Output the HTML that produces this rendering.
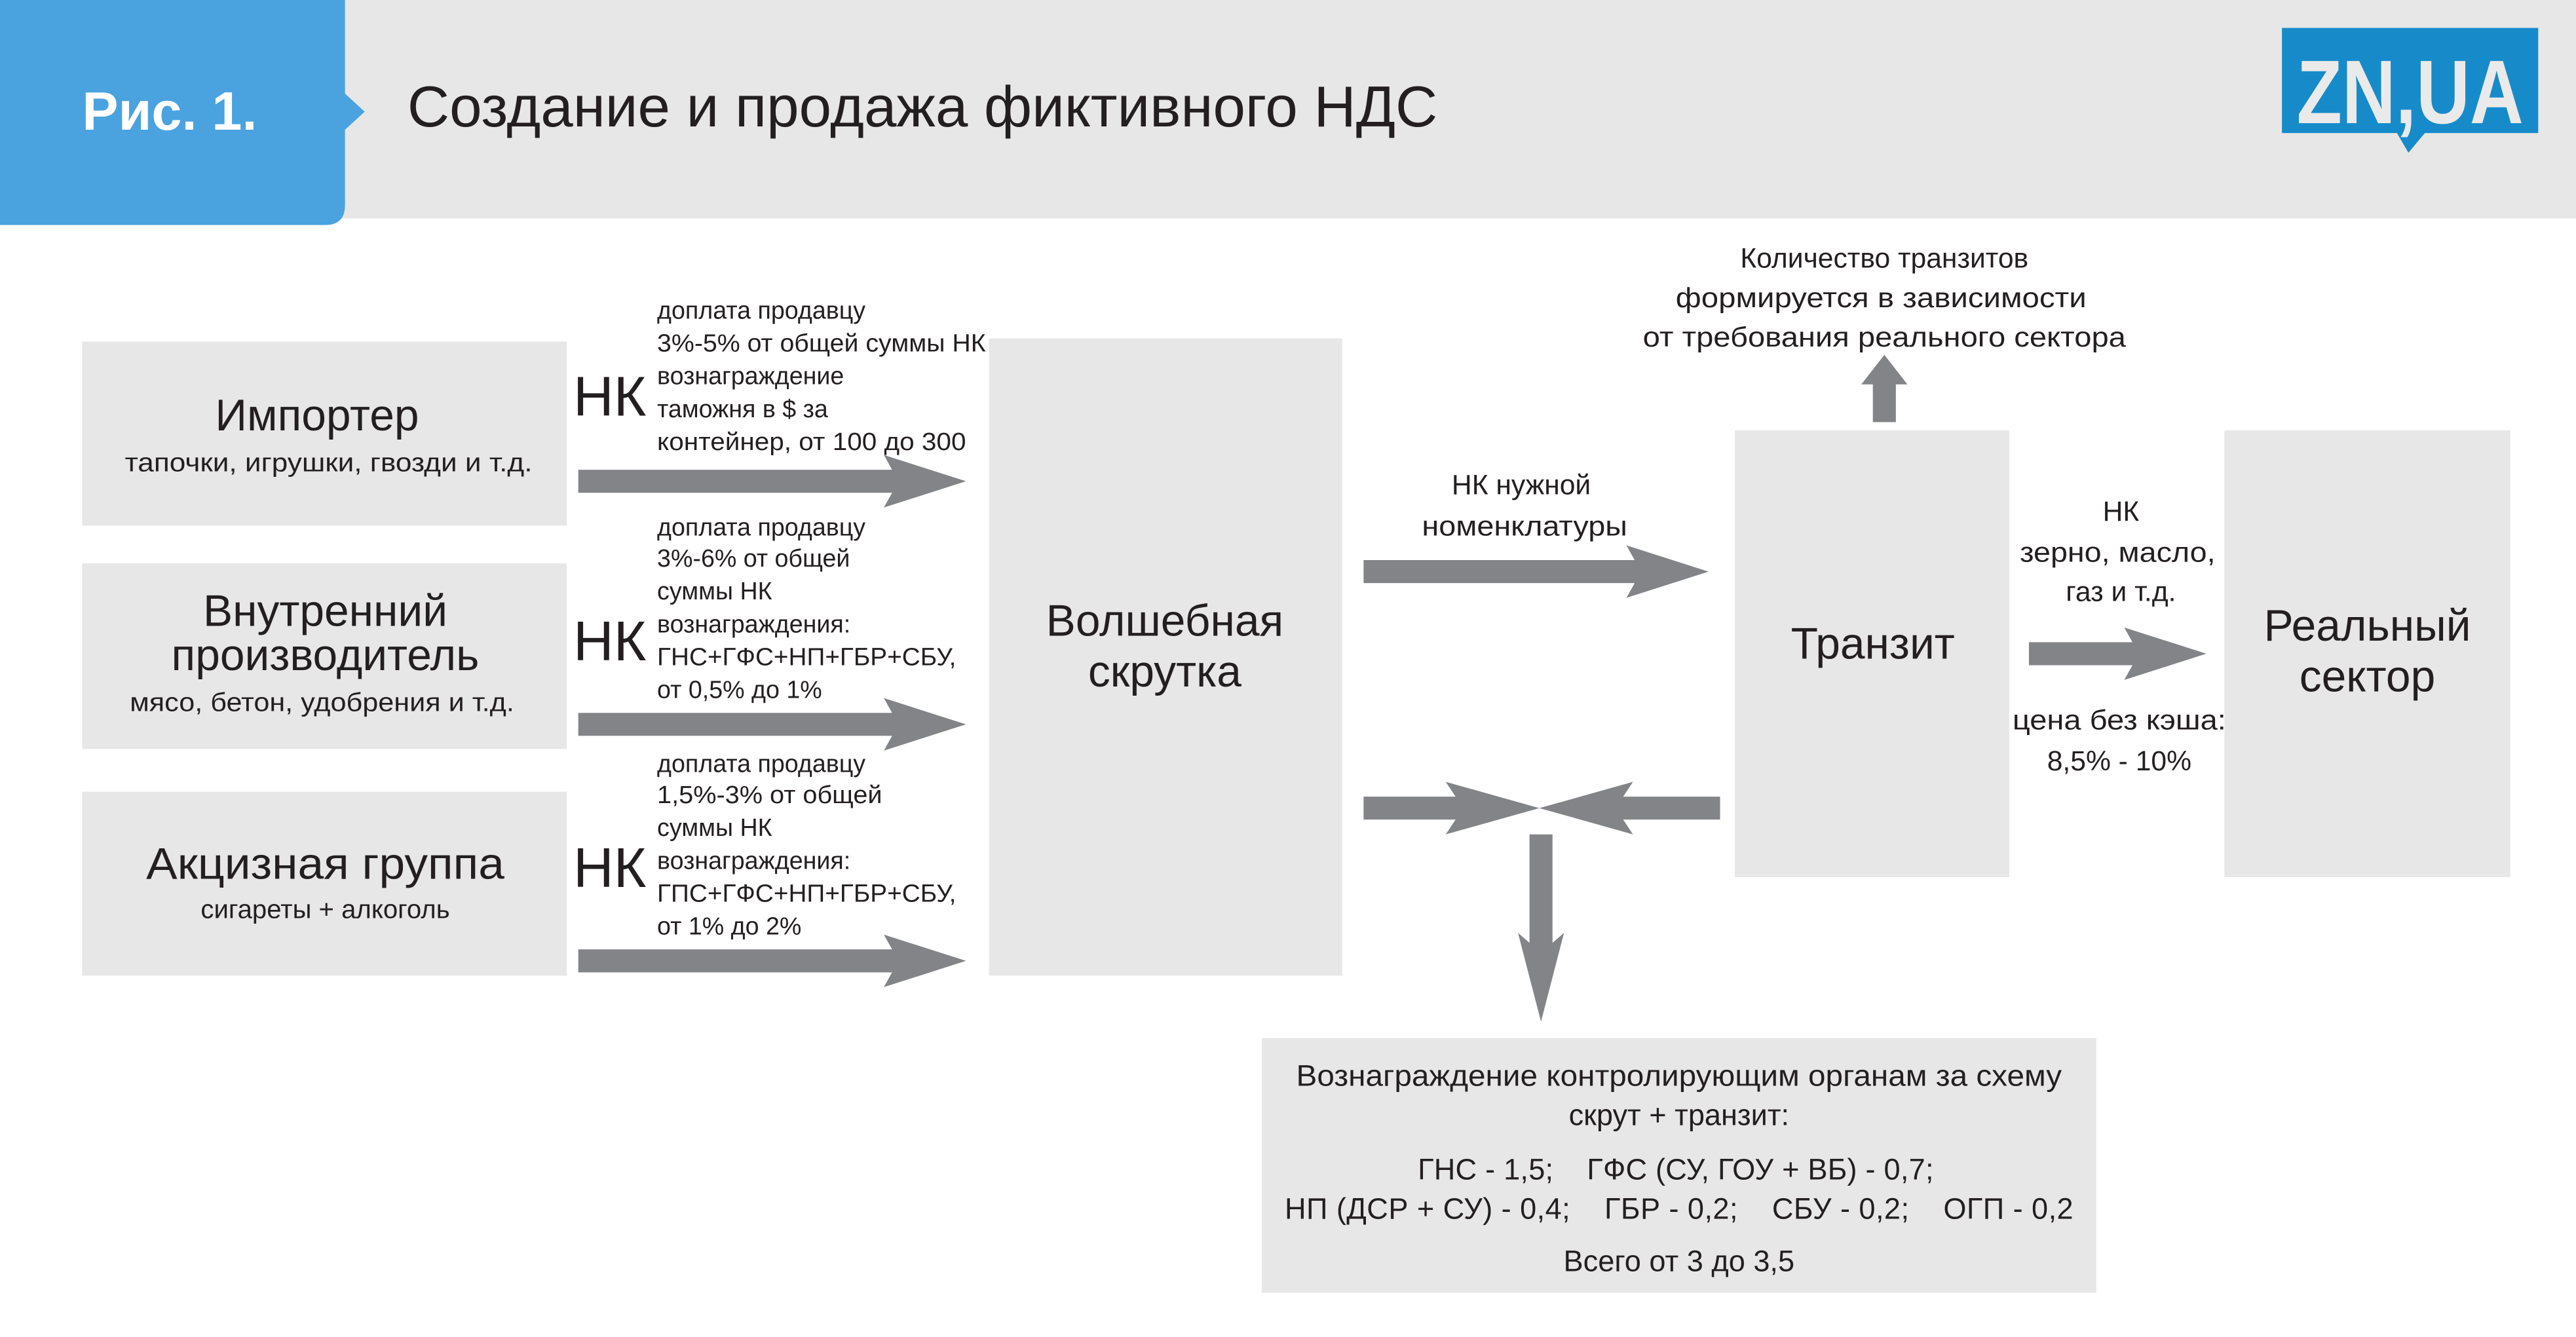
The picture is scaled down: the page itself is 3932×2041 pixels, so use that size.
<!DOCTYPE html>
<html><head><meta charset="utf-8"><style>
html,body{margin:0;padding:0;background:#fff;}
svg{display:block;}
text{font-family:"Liberation Sans","Noto Sans CJK SC",sans-serif;fill:#231f20;white-space:pre;}
</style></head><body>
<svg width="3932" height="2041" viewBox="0 0 1568 814" preserveAspectRatio="none" xmlns="http://www.w3.org/2000/svg" xml:space="preserve">
<rect x="0" y="0" width="1568" height="133" fill="#e7e7e7"/>
<path d="M0 0 H210 V57 L222 68 L210 79 V125 Q210 137 198 137 H0 Z" fill="#4aa3df"/>
<text x="50" y="79" font-size="33" font-weight="bold" style="fill:#fff">Рис. 1.</text>
<text x="248" y="77" font-size="35" textLength="627" lengthAdjust="spacingAndGlyphs">Создание и продажа фиктивного НДС</text>
<path d="M1389 17 H1545 V81 H1476 L1466 93 L1459 81 H1389 Z" fill="#178bca"/>
<text x="1467" y="75" font-size="55" font-weight="bold" text-anchor="middle" style="fill:#eaeaea" textLength="138" lengthAdjust="spacingAndGlyphs">ZN,UA</text>

<g fill="#e7e7e7">
<rect x="50" y="208" width="295" height="112"/>
<rect x="50" y="343" width="295" height="113"/>
<rect x="50" y="482" width="295" height="112"/>
<rect x="602" y="206" width="215" height="388"/>
<rect x="1056" y="262" width="167" height="272"/>
<rect x="1354" y="262" width="174" height="272"/>
<rect x="768" y="632" width="508" height="155"/>
</g>

<g text-anchor="middle">
<text x="193" y="262" font-size="27">Импортер</text>
<text x="200" y="287" font-size="16" textLength="248" lengthAdjust="spacingAndGlyphs">тапочки, игрушки, гвозди и т.д.</text>
<text x="198" y="381" font-size="27">Внутренний</text>
<text x="198" y="408" font-size="27">производитель</text>
<text x="196" y="433" font-size="16" textLength="234" lengthAdjust="spacingAndGlyphs">мясо, бетон, удобрения и т.д.</text>
<text x="198" y="535" font-size="27" textLength="218" lengthAdjust="spacingAndGlyphs">Акцизная группа</text>
<text x="198" y="559" font-size="16">сигареты + алкоголь</text>
<text x="709" y="387" font-size="27">Волшебная</text>
<text x="709" y="418" font-size="27">скрутка</text>
<text x="1140" y="401" font-size="27">Транзит</text>
<text x="1441" y="390" font-size="27">Реальный</text>
<text x="1441" y="421" font-size="27">сектор</text>

<text x="1147" y="163" font-size="17">Количество транзитов</text>
<text x="1145" y="187" font-size="17" textLength="250" lengthAdjust="spacingAndGlyphs">формируется в зависимости</text>
<text x="1147" y="211" font-size="17" textLength="294" lengthAdjust="spacingAndGlyphs">от требования реального сектора</text>
<text x="926" y="301" font-size="17">НК нужной</text>
<text x="928" y="326" font-size="17" textLength="125" lengthAdjust="spacingAndGlyphs">номенклатуры</text>
<text x="1291" y="317" font-size="17">НК</text>
<text x="1289" y="342" font-size="17" textLength="119" lengthAdjust="spacingAndGlyphs">зерно, масло,</text>
<text x="1291" y="366" font-size="17">газ и т.д.</text>
<text x="1290" y="444" font-size="17" textLength="130" lengthAdjust="spacingAndGlyphs">цена без кэша:</text>
<text x="1290" y="469" font-size="17">8,5% - 10%</text>

<text x="1022" y="661" font-size="18" textLength="466" lengthAdjust="spacingAndGlyphs">Вознаграждение контролирующим органам за схему</text>
<text x="1022" y="685" font-size="18">скрут + транзит:</text>
<text x="1020" y="718" font-size="18" textLength="314" lengthAdjust="spacing">ГНС - 1,5;    ГФС (СУ, ГОУ + ВБ) - 0,7;</text>
<text x="1022" y="742" font-size="18" textLength="480" lengthAdjust="spacing">НП (ДСР + СУ) - 0,4;    ГБР - 0,2;    СБУ - 0,2;    ОГП - 0,2</text>
<text x="1022" y="774" font-size="18">Всего от 3 до 3,5</text>
</g>

<g font-size="34">
<text x="349" y="253">НК</text>
<text x="349" y="402">НК</text>
<text x="349" y="540">НК</text>
</g>
<g font-size="15">
<text x="400" y="194">доплата продавцу</text>
<text x="400" y="214" textLength="200" lengthAdjust="spacingAndGlyphs">3%-5% от общей суммы НК</text>
<text x="400" y="234">вознаграждение</text>
<text x="400" y="254">таможня в $ за</text>
<text x="400" y="274" textLength="188" lengthAdjust="spacingAndGlyphs">контейнер, от 100 до 300</text>
<text x="400" y="326">доплата продавцу</text>
<text x="400" y="345">3%-6% от общей</text>
<text x="400" y="365">суммы НК</text>
<text x="400" y="385">вознаграждения:</text>
<text x="400" y="405" textLength="182" lengthAdjust="spacingAndGlyphs">ГНС+ГФС+НП+ГБР+СБУ,</text>
<text x="400" y="425">от 0,5% до 1%</text>
<text x="400" y="470">доплата продавцу</text>
<text x="400" y="489" textLength="137" lengthAdjust="spacingAndGlyphs">1,5%-3% от общей</text>
<text x="400" y="509">суммы НК</text>
<text x="400" y="529">вознаграждения:</text>
<text x="400" y="549" textLength="182" lengthAdjust="spacingAndGlyphs">ГПС+ГФС+НП+ГБР+СБУ,</text>
<text x="400" y="569">от 1% до 2%</text>
</g>

<g fill="#838488">
<polygon points="352,286 543,286 538,277 588,293 538,309 543,300 352,300"/>
<polygon points="352,434 543,434 538,425 588,441 538,457 543,448 352,448"/>
<polygon points="352,578 543,578 538,569 588,585 538,601 543,592 352,592"/>
<polygon points="830,341 995,341 990,332 1040,348 990,364 995,355 830,355"/>
<polygon points="1235,391 1298,391 1293,382 1343,398 1293,414 1298,405 1235,405"/>
<polygon points="830,485 886,485 880,476 937,492 880,508 886,499 830,499"/>
<polygon points="1047,485 988,485 994,476 937,492 994,508 988,499 1047,499"/>
<polygon points="931,508 945,508 945,574 952,568 938,622 924,568 931,574"/>
<polygon points="1140,257 1154,257 1154,234 1161,234 1147,216 1133,234 1140,234"/>
</g>
</svg>
</body></html>
